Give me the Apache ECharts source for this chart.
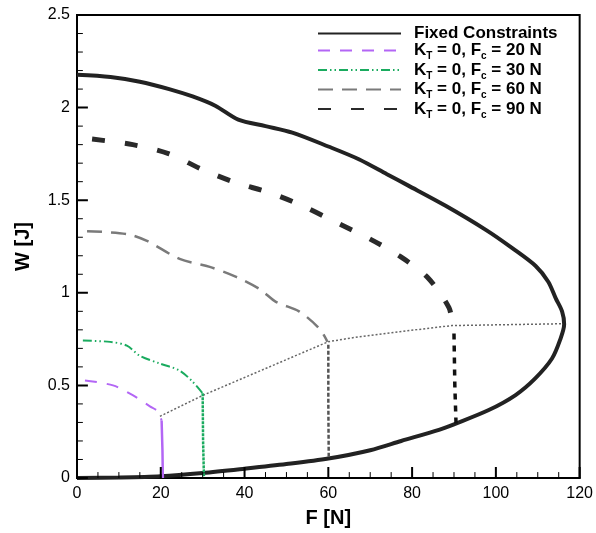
<!DOCTYPE html>
<html>
<head>
<meta charset="utf-8">
<script src="https://cdn.jsdelivr.net/npm/echarts@6/dist/echarts.min.js"></script>
<style>
  html, body { margin: 0; padding: 0; background: #fff; }
  #chart-panel { width: 596px; height: 533px; }
</style>
</head>
<body>
<div id="chart-panel"></div>
<script>
// curves, [F, W]
var fixedUpper = [[0, 2.177], [8, 2.165], [15, 2.14], [22, 2.1], [27.6, 2.06], [33, 2.01], [38.5, 1.935],
    [45, 1.9], [51.4, 1.865], [60, 1.79], [67.4, 1.72], [74, 1.64], [79, 1.58], [88, 1.47],
    [97.6, 1.34], [104, 1.24], [109.5, 1.145], [112.5, 1.06], [114.3, 0.97], [115.8, 0.9], [116.3, 0.83]];
var fixedLower = [[115.4, 0.75], [113.4, 0.645], [109.4, 0.538], [104.7, 0.448], [98.3, 0.367],
    [90, 0.29], [86.4, 0.26], [77.4, 0.2], [70, 0.15], [60, 0.105], [50, 0.075],
    [40, 0.05], [30, 0.027], [20, 0.01], [10, 0.003], [0, 0]];
var fc20Curve = [[1.9, 0.527], [8.6, 0.5], [13.3, 0.447], [17.4, 0.387], [19.3, 0.36], [20.2, 0.31]];
var fc20Drop = [[20.2, 0.31], [20.4, 0.15], [20.5, 0.0]];
var fc30Curve = [[1.4, 0.742], [7.9, 0.735], [11.9, 0.715], [15, 0.66], [19.8, 0.618], [24.5, 0.58],
    [27.6, 0.52], [30, 0.457]];
var fc30Drop = [[30, 0.457], [30.1, 0.2], [30.3, 0.01]];
var fc60Curve = [[2.4, 1.333], [11.9, 1.317], [16.7, 1.28], [24.5, 1.183], [31.7, 1.14], [38, 1.086],
    [43.6, 1.02], [47.6, 0.95], [53, 0.9], [57.9, 0.806], [59.8, 0.735]];
var fc60Drop = [[60, 0.72], [60, 0.4], [60.1, 0.105]];
var fc90Curve = [[3.6, 1.83], [13.3, 1.8], [22, 1.75], [29.8, 1.667], [37.6, 1.597], [46, 1.54],
    [53.8, 1.47], [61.9, 1.38], [70, 1.29], [76.9, 1.2], [83.6, 1.085], [88.8, 0.92], [89.6, 0.82]];
var fc90Drop = [[90, 0.78], [90.2, 0.5], [90.5, 0.285]];
var tipLine = [[19.8, 0.333], [30, 0.446], [60, 0.736], [67.4, 0.763], [77, 0.79], [89.5, 0.823], [116, 0.833]];

// tick positions
var xMajorTicks = [0, 20, 40, 60, 80, 100, 120];
var xMinorTicks = [5, 10, 15, 25, 30, 35, 45, 50, 55, 65, 70, 75, 85, 90, 95, 105, 110, 115];
var yMajorTicks = [0, 0.5, 1, 1.5, 2, 2.5];
var yMinorTicks = [0.1, 0.2, 0.3, 0.4, 0.6, 0.7, 0.8, 0.9, 1.1, 1.2, 1.3, 1.4, 1.6, 1.7, 1.8, 1.9, 2.1, 2.2, 2.3, 2.4];

var legendNames = ['Fixed Constraints', 'Fc = 20 N', 'Fc = 30 N', 'Fc = 60 N', 'Fc = 90 N'];

function legendText(name) {
    if (name === 'Fixed Constraints') return '{a|' + name + '}';
    return '{a|K}{s|T}{a| = 0, F}{s|c}{a|' + name.slice(2) + '}';
}

// inward ticks as broken line segments, length given in axis units (~11px / ~6px)
function xTickSegs(list, len) {
    var out = [];
    list.forEach(function (v) { out.push([v, 0], [v, len], ['-', '-']); });
    return out;
}
function yTickSegs(list, len) {
    var out = [];
    list.forEach(function (v) { out.push([0, v], [len, v], ['-', '-']); });
    return out;
}

function tickSeries(id, data, width) {
    return {
        name: id, type: 'line', symbol: 'none', silent: true, clip: false, z: 5,
        connectNulls: false, data: data,
        lineStyle: { color: '#000', width: width }
    };
}

option = {
    animation: false,
    backgroundColor: '#fff',
    grid: { left: 77, right: 16, top: 15, bottom: 53, show: true, borderColor: '#000', borderWidth: 2 },
    legend: {
        data: legendNames,
        orient: 'vertical',
        left: 312,
        top: 20,
        itemWidth: 83,
        itemHeight: 10,
        itemGap: 0,
        formatter: legendText,
        itemStyle: { opacity: 0 },
        textStyle: {
            rich: {
                a: { fontFamily: 'Liberation Sans', fontSize: 17, fontWeight: 'bold', color: '#000', lineHeight: 22 },
                s: { fontFamily: 'Liberation Sans', fontSize: 10, fontWeight: 'bold', color: '#000', lineHeight: 10, verticalAlign: 'bottom' }
            },
            padding: [0, 0, 0, 8]
        }
    },
    xAxis: {
        type: 'value', min: 0, max: 120, interval: 20,
        name: 'F [N]', nameLocation: 'middle', nameGap: 30,
        nameTextStyle: { fontFamily: 'Liberation Sans', fontSize: 20, fontWeight: 'bold', color: '#000' },
        axisLine: { show: true, lineStyle: { color: '#000', width: 2 } },
        axisTick: { show: false },
        axisLabel: { fontFamily: 'Liberation Sans', fontSize: 16, color: '#000', margin: 8 },
        splitLine: { show: false }
    },
    yAxis: {
        type: 'value', min: 0, max: 2.5, interval: 0.5,
        name: 'W [J]', nameLocation: 'middle', nameGap: 44,
        nameTextStyle: { fontFamily: 'Liberation Sans', fontSize: 20, fontWeight: 'bold', color: '#000' },
        axisLine: { show: true, lineStyle: { color: '#000', width: 2 } },
        axisTick: { show: false },
        axisLabel: { fontFamily: 'Liberation Sans', fontSize: 16, color: '#000', margin: 7 },
        splitLine: { show: false }
    },
    series: [{
        name: 'Fixed Constraints', type: 'line', showSymbol: false, symbol: 'none', smooth: 0.3,
        data: fixedUpper.concat(fixedLower),
        lineStyle: { color: '#222', width: 4 }, itemStyle: { color: '#000' }
    }, {
        name: 'tip', type: 'line', symbol: 'none', data: tipLine,
        lineStyle: { color: '#666', width: 1.5, type: [2, 2] }
    }, {
        name: 'Fc = 20 N', type: 'line', symbol: 'none', smooth: 0.3, data: fc20Curve,
        lineStyle: { color: '#b366f5', width: 2, type: [12, 10] }, itemStyle: { color: '#b366f5' }
    }, {
        name: 'Fc = 20 N', type: 'line', symbol: 'none', data: fc20Drop,
        lineStyle: { color: '#b366f5', width: 2.5 }
    }, {
        name: 'Fc = 30 N', type: 'line', symbol: 'none', smooth: 0.3, data: fc30Curve,
        lineStyle: { color: '#1aab5f', width: 2, type: [9, 3, 1.5, 3, 1.5, 3] }, itemStyle: { color: '#1aab5f' }
    }, {
        name: 'Fc = 30 N', type: 'line', symbol: 'none', data: fc30Drop,
        lineStyle: { color: '#1aab5f', width: 2.5, type: [3, 1] }
    }, {
        name: 'Fc = 60 N', type: 'line', symbol: 'none', smooth: 0.3, data: fc60Curve,
        lineStyle: { color: '#7a7a7a', width: 2.5, type: [15, 9] }, itemStyle: { color: '#666' }
    }, {
        name: 'Fc = 60 N', type: 'line', symbol: 'none', data: fc60Drop,
        lineStyle: { color: '#555', width: 2.5, type: [4, 2] }
    }, {
        name: 'Fc = 90 N', type: 'line', symbol: 'none', smooth: 0.3, data: fc90Curve,
        lineStyle: { color: '#2a2a2a', width: 5, type: [13, 20] }, itemStyle: { color: '#000' }
    }, {
        name: 'Fc = 90 N', type: 'line', symbol: 'none', data: fc90Drop,
        lineStyle: { color: '#111', width: 3.5, type: [6, 6] }
    },
    tickSeries('xMajor', xTickSegs(xMajorTicks, 0.059), 2),
    tickSeries('xMinor', xTickSegs(xMinorTicks, 0.032), 1),
    tickSeries('yMajor', yTickSegs(yMajorTicks, 2.6), 2),
    tickSeries('yMinor', yTickSegs(yMinorTicks, 1.4), 1)]
};

var myChart = echarts.init(document.getElementById('chart-panel'));
myChart.setOption(option);
</script>
</body>
</html>
